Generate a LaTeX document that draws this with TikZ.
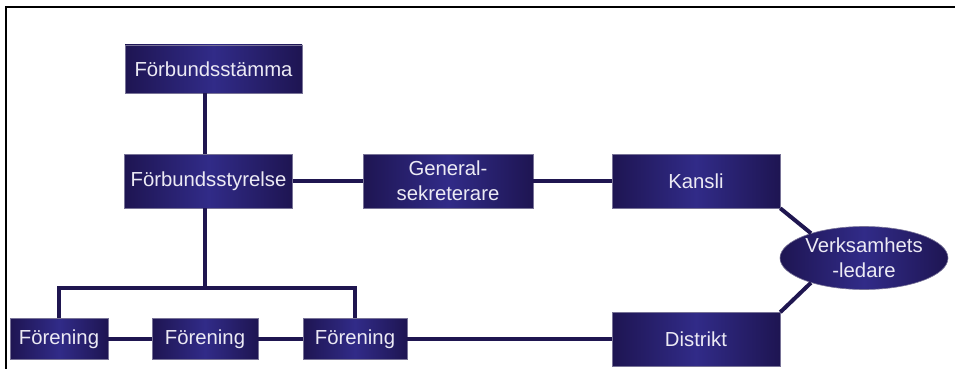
\documentclass[tikz,border=0pt]{standalone}
\usepackage{fontspec}
\setmainfont{Liberation Sans}
\usetikzlibrary{shapes.geometric}
\definecolor{navy}{HTML}{1E1552}
\definecolor{navymid}{HTML}{312B88}
\definecolor{lineblue}{HTML}{1F1650}
\definecolor{paletext}{HTML}{ECEAF4}

\begin{document}
\begin{tikzpicture}[x=1pt,y=-1pt,
  every node/.style={font=\fontsize{20.3}{25}\selectfont,text=paletext,align=center,inner sep=0pt},
  orgbox/.style={rectangle,left color=navy,right color=navy,middle color=navymid,draw=navy!60!white,line width=0.6pt},
  link/.style={lineblue,line width=4pt}]
  \useasboundingbox (0,0) rectangle (955,369);
  \draw[line width=1.3pt] (6,369) -- (6,7) -- (955,7);
  \node[orgbox,minimum width=177pt,minimum height=48pt] (stamma) at (213.5,69) {Förbundsstämma};
  \node[orgbox,minimum width=168pt,minimum height=54pt] (styrelse) at (208.5,181) {Förbundsstyrelse};
  \node[orgbox,minimum width=170pt,minimum height=54pt] (gensek) at (448,181) {General-\\sekreterare};
  \node[orgbox,minimum width=168pt,minimum height=54pt] (kansli) at (696,181) {Kansli};
  \node[orgbox,minimum width=168pt,minimum height=54pt] (distrikt) at (696,339.5) {Distrikt};
  \node[orgbox,ellipse,minimum width=168pt,minimum height=63pt] (verk) at (864,258) {Verksamhets\\-ledare};
  \node[orgbox,minimum width=98pt,minimum height=41pt] (f1) at (59,339) {Förening};
  \node[orgbox,minimum width=106pt,minimum height=41pt] (f2) at (205,339) {Förening};
  \node[orgbox,minimum width=104pt,minimum height=41pt] (f3) at (355,339) {Förening};
  \coordinate (fork) at (205,288);
  \draw[link] (styrelse.north -| fork) -- (stamma.south -| fork);
  \draw[link] (styrelse) -- (gensek);
  \draw[link] (gensek) -- (kansli);
  \draw[link] (kansli.south east) -- (verk.155);
  \draw[link] (distrikt.north east) -- (verk.205);
  \draw[link] (styrelse.south -| fork) -- (fork);
  \draw[link] (f1.north) |- (fork) -| (f3.north);
  \draw[link] (f1) -- (f2);
  \draw[link] (f2) -- (f3);
  \draw[link] (f3.east) -- (f3.east -| distrikt.west);
\end{tikzpicture}
\end{document}
